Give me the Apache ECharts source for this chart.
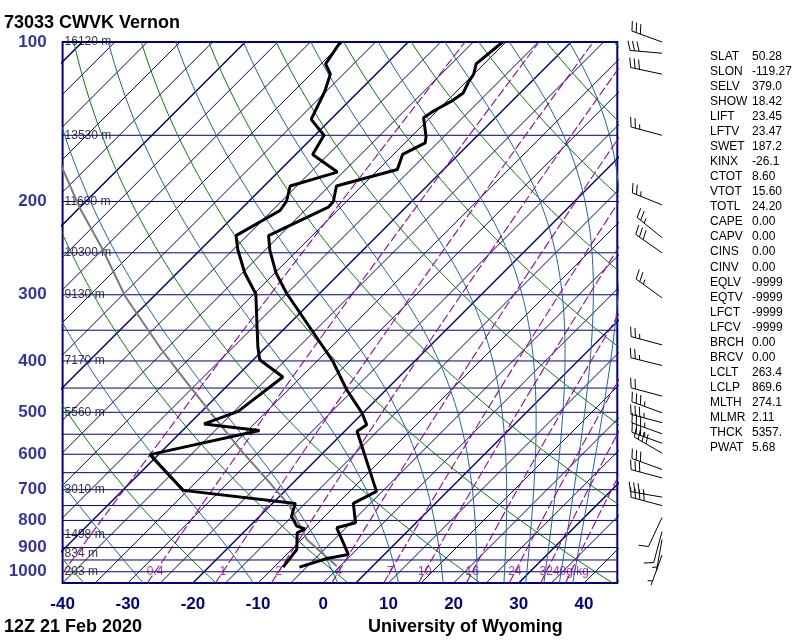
<!DOCTYPE html>
<html><head><meta charset="utf-8">
<script src="https://cdn.jsdelivr.net/npm/echarts@6/dist/echarts.min.js"></script>
<style>html,body{margin:0;padding:0;background:#fff}#c{width:800px;height:640px}</style>
</head><body><div id="c"></div>
<script>
// ---------------- data ----------------
const tempP = [100,110,115,119,125,129,135,139,151,155,163,174,187,200,205,232,247,273,298,376,401,453,501,528,543,705,743,808,826,928,944,980];
const tempT = [-55.5,-56.2,-55.0,-54.6,-53.7,-54.2,-55.5,-56.0,-52.7,-51.9,-53.6,-52.1,-58.9,-57.0,-56.9,-61.7,-59.3,-54.8,-50.1,-36.3,-32.5,-26.1,-20.2,-17.6,-18.1,-5.9,-7.6,-4.3,-6.4,-0.5,-3.2,-6.1];
const dewP = [100,110,115,124,140,150,163,176,187,200,208,232,247,273,299,376,398,429,498,526,541,601,702,743,786,820,830,844,908,980];
const dewT = [-80.4,-79.3,-77.0,-75.2,-73.0,-68.6,-67.4,-60.9,-66.0,-64.2,-63.8,-66.7,-64.2,-59.6,-54.7,-46.3,-44.0,-37.8,-39.4,-42.7,-33.2,-46.3,-35.7,-16.5,-15.1,-12.8,-11.1,-11.7,-9.2,-8.6];
const parcelP = [171,205,247,302,381,440,509,588,670,752,869,976];
const parcelT = [-104.3,-95.1,-84.9,-74.4,-60.6,-51.6,-42.4,-33.2,-24.5,-16.9,-9.2,-0.5];

const windP   = [100,105,115,150,203,234,250,304,373,408,466,501,523,549,572,597,641,665,723,750,790,840,870,930];
const windDir = [290,275,282,285,292,309,305,306,285,284,285,290,285,290,290,300,290,285,280,285,205,195,190,200];
const windSpd = [30,30,30,25,25,25,30,25,25,25,20,35,35,35,35,40,30,30,35,40,10,10,5,5];

const pressureTicks = [100,200,300,400,500,600,700,800,900,1000];
const tempTicks = [-40,-30,-20,-10,0,10,20,30,40];
const isobarLevels = [100,150,200,250,300,350,400,450,500,550,600,650,700,750,800,850,900,950,1000,1050];
const heightLevels = [100,150,200,250,300,400,500,700,850,925,1000];
const heightLabels = ['16120 m','13530 m','11690 m','10300 m','9130 m','7170 m','5560 m','3010 m','1498 m','834 m','203 m'];
const dryThetas = [-40,-20,0,20,40,60,80,100,120,140,160,180];
const moistThetaE = [-30,-10,10,30,50,70,90,110,130,150,170];
const mixRatios = [0.1,0.4,1,2,4,7,10,16,24,32,40];
const mixLabels = ['','0.4','1','2','4','7','10','16','24','32','40g/kg'];
const thickIsotherms = [-120,-95,-70,-45,-20,5,30];

const indexNames  = ['SLAT','SLON','SELV','SHOW','LIFT','LFTV','SWET','KINX','CTOT','VTOT','TOTL','CAPE','CAPV','CINS','CINV','EQLV','EQTV','LFCT','LFCV','BRCH','BRCV','LCLT','LCLP','MLTH','MLMR','THCK','PWAT'];
const indexValues = ['50.28','-119.27','379.0','18.42','23.45','23.47','187.2','-26.1','8.60','15.60','24.20','0.00','0.00','0.00','0.00','-9999','-9999','-9999','-9999','0.00','0.00','263.4','869.6','274.1','2.11','5357.','5.68'];

// ---------------- skew-T helpers ----------------
const P_TOP = 100, P_BOT = 1050, X_MIN = -40, X_MAX = 45.12;
const SKEW = 81.3; // deg C of x shift per decade of pressure (45 deg isotherms)
const tp = (T, p) => T + SKEW * Math.log10(P_BOT / p);
const samples = [];
for (let i = 0; i <= 90; i++) samples.push(P_BOT * Math.pow(P_TOP / P_BOT, i / 90));

function es(Tc){ return 6.112*Math.exp(17.67*Tc/(Tc+243.5)); }
function thetaE(TK, p){
  const Tc = TK-273.15, e = es(Tc);
  if (e >= p*0.9) return 1e9;
  const r = 622*e/(p-e);
  return TK*Math.pow(1000/p, 0.2854*(1-0.00028*r))*Math.exp((3.376/TK-0.00254)*r*(1+0.00081*r));
}
function moistT(the, p){
  let lo = 120, hi = 340;
  for (let k=0;k<50;k++){ const m=(lo+hi)/2; if (thetaE(m,p) > the) hi=m; else lo=m; }
  return (lo+hi)/2 - 273.15;
}
function dewFromR(r, p){
  const e = r*p/(622+r), l = Math.log(e/6.112);
  return 243.5*l/(17.67-l);
}
function joinLines(lines){ const out=[]; lines.forEach(l=>{ l.forEach(pt=>out.push(pt)); out.push('-'); }); return out; }

const isobarData = joinLines(isobarLevels.map(p => [[X_MIN,p],[X_MAX,p]]));
const isoT = []; for (let t=-125; t<=45; t+=5) isoT.push(t);
const isothermData = joinLines(isoT.map(t => [[tp(t,P_BOT),P_BOT],[tp(t,P_TOP),P_TOP]]));
const thickData = joinLines(thickIsotherms.map(t => [[tp(t,P_BOT),P_BOT],[tp(t,P_TOP),P_TOP]]));
const dryData = joinLines(dryThetas.map(th => samples.map(p => [tp((th+273.15)*Math.pow(p/1000,0.2857)-273.15,p),p])));
const moistData = joinLines(moistThetaE.map(th => samples.map(p => [tp(moistT(th+273.15,p),p),p])));
const mixData = joinLines(mixRatios.map(r => samples.map(p => [tp(dewFromR(r,p),p),p])));
const prof = (P,T) => P.map((p,i)=>[tp(T[i],p),p]);

const NAVY = '#000080', FONT = '"Liberation Sans", Arial, Helvetica, sans-serif';
const AXC = '#00008b', PURPLE = '#9a009a';

const chart = echarts.init(document.getElementById('c'), null, {renderer:'canvas'});
const lineS = (data, color, width, extra) => Object.assign({type:'line', data, symbol:'none', silent:true, clip:true,
  lineStyle:{color, width}, connectNulls:false, animation:false}, extra||{});

const BARB_X = 662;
function barbItem(params, api){
  const c = api.coord([api.value(0), api.value(1)]);
  const x0 = BARB_X, y0 = c[1];
  const d = api.value(2)*Math.PI/180, spd = api.value(3);
  const ux = Math.sin(d), uy = -Math.cos(d);
  const L = 32, tx = x0+ux*L, ty = y0+uy*L;
  const st = {stroke:'#000', lineWidth:1};
  const ch = [{type:'line', shape:{x1:x0,y1:y0,x2:tx,y2:ty}, style:st}];
  const px = -uy, py = ux;
  const fx = px*0.95+ux*0.3, fy = py*0.95+uy*0.3;
  let rem = Math.round(spd/5)*5, pos = 0; const step = 4.5, FL = 10;
  while (rem >= 50){
    const bx=tx-ux*pos, by=ty-uy*pos;
    ch.push({type:'polygon', shape:{points:[[bx,by],[bx+px*FL,by+py*FL],[bx-ux*step*1.5,by-uy*step*1.5]]}, style:{fill:'#000'}});
    rem -= 50; pos += step*1.8;
  }
  while (rem >= 10){
    const bx=tx-ux*pos, by=ty-uy*pos;
    ch.push({type:'line', shape:{x1:bx,y1:by,x2:bx+fx*FL,y2:by+fy*FL}, style:st});
    rem -= 10; pos += step;
  }
  if (rem >= 5){
    if (pos === 0) pos = step;
    const bx=tx-ux*pos, by=ty-uy*pos;
    ch.push({type:'line', shape:{x1:bx,y1:by,x2:bx+fx*FL/2,y2:by+fy*FL/2}, style:st});
  }
  return {type:'group', children:ch};
}

const txt = (text, x, y, font) => ({type:'text', x, y, silent:true,
  style:{text, font, fill:'#000', align:'left', verticalAlign:'middle', textAlign:'left', textVerticalAlign:'middle'}});
const graphics = [
  txt('73033 CWVK Vernon', 4, 23, 'bold 18px '+FONT),
  txt('12Z 21 Feb 2020', 4, 627, 'bold 18px '+FONT),
  txt('University of Wyoming', 368, 627, 'bold 18px '+FONT)
];
indexNames.forEach((n,i)=>{
  const y = 56.5 + i*15.05;
  graphics.push(txt(n, 710, y, '12px '+FONT));
  graphics.push(txt(indexValues[i], 752, y, '12px '+FONT));
});

chart.setOption({
  animation:false,
  backgroundColor:'#fff',
  grid:{left:62.6, right:182.7, top:42, bottom:57, show:true, borderColor:NAVY, borderWidth:2, backgroundColor:'transparent', containLabel:false},
  xAxis:{type:'value', min:X_MIN, max:X_MAX, interval:10,
    axisLine:{show:false}, axisTick:{show:false}, splitLine:{show:false},
    axisLabel:{show:true, margin:13, color:AXC, fontSize:17, fontWeight:'bold', fontFamily:FONT, showMaxLabel:false,
      formatter:v => (tempTicks.indexOf(v) >= 0 ? String(v) : '')}},
  yAxis:{type:'log', logBase:10, min:P_TOP, max:P_BOT, inverse:true,
    axisLine:{show:false}, axisTick:{show:false}, splitLine:{show:false}, axisLabel:{show:false}},
  graphic:graphics,
  series:[
    lineS(isobarData, NAVY, 1),
    lineS(isothermData, NAVY, 1),
    lineS(thickData, NAVY, 1.4),
    lineS(dryData, '#008000', 1),
    lineS(moistData, '#1f62a6', 1),
    lineS(mixData, PURPLE, 1, {lineStyle:{color:PURPLE, width:1.1, type:[9,3]}}),
    lineS(prof(parcelP,parcelT), '#7a7a7a', 2),
    lineS(prof(tempP,tempT), '#000', 3),
    lineS(prof(dewP,dewT), '#000', 3),
    {type:'scatter', silent:true, symbolSize:0, clip:false, animation:false,
      data:pressureTicks.map(p=>[X_MIN,p]),
      label:{show:true, position:'left', distance:16, color:AXC, fontSize:17, fontWeight:'bold', fontFamily:FONT,
        formatter:pr=>String(pr.value[1])}},
    {type:'scatter', silent:true, symbolSize:0, clip:false, animation:false,
      data:heightLevels.map((p,i)=>({value:[X_MIN,p], name:heightLabels[i]})),
      label:{show:true, position:'right', distance:2, color:'#000', fontSize:12, fontFamily:FONT,
        formatter:pr=>pr.name}},
    {type:'scatter', silent:true, symbolSize:0, clip:false, animation:false,
      data:mixRatios.map((r,i)=>({value:[tp(dewFromR(r,1000),1000),1000], name:mixLabels[i]})),
      label:{show:true, position:'inside', color:PURPLE, fontSize:12, fontFamily:FONT,
        formatter:pr=>pr.name}},
    {type:'custom', silent:true, clip:false, animation:false, renderItem:barbItem,
      encode:{x:0,y:1},
      data:windP.map((p,i)=>[0,p,windDir[i],windSpd[i]])}
  ]
});
</script></body></html>
